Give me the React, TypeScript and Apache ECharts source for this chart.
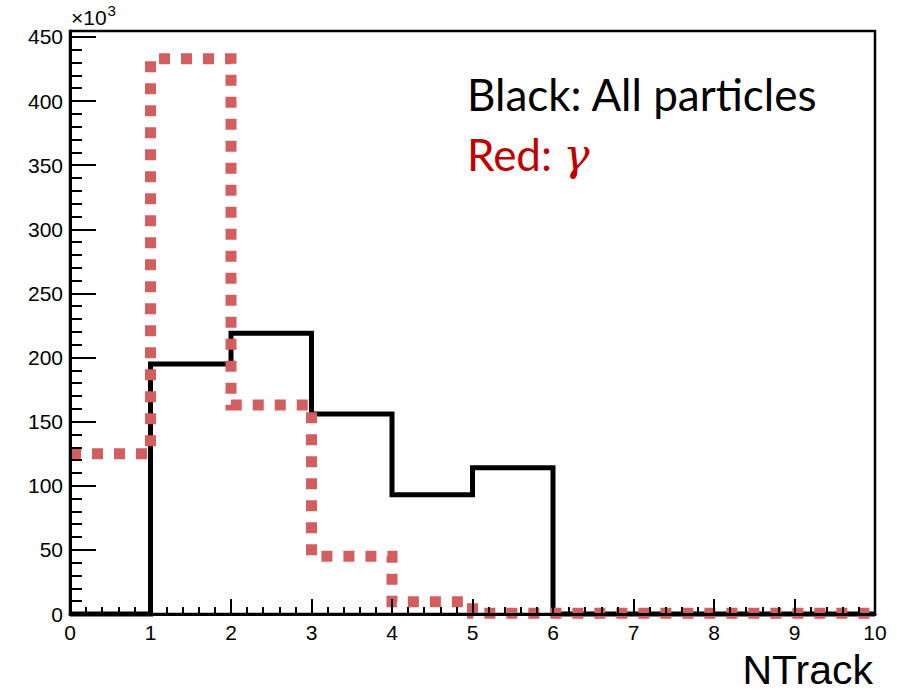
import React, { useEffect, useRef } from "react";
import * as echarts from "echarts";

// Bin edges (NTrack) and bin contents (in units of 10^3)
const binEdges = [0, 1, 2, 3, 4, 5, 6, 7, 8, 9, 10];
const allParticles = [0, 195, 219, 156, 93, 114, 0, 0, 0, 0];
const gammaParticles = [125, 433, 163, 45, 9.5, 0.5, 0.5, 0.5, 0.5, 0.5];
const yMajorTicks = [0, 50, 100, 150, 200, 250, 300, 350, 400, 450];
const xTickLabels = ["0", "1", "2", "3", "4", "5", "6", "7", "8", "9", "10"];

const Y_MAX = 454.6;

function toStep(vals: number[]): number[][] {
  return binEdges.map((e, i) => [e, vals[Math.min(i, vals.length - 1)]]);
}

export default function App() {
  const ref = useRef<HTMLDivElement>(null);
  useEffect(() => {
    if (!ref.current) return;
    const chart = echarts.init(ref.current, null, { renderer: "svg" });
    const labelFont = "Liberation Sans";
    const textFont = "Lato";
    chart.setOption({
      animation: false,
      backgroundColor: "#ffffff",
      grid: {
        left: 70,
        right: 22,
        top: 31,
        bottom: 78,
        show: true,
        borderColor: "#000",
        borderWidth: 2.5,
        backgroundColor: "transparent",
      },
      xAxis: {
        type: "value",
        min: 0,
        max: 10,
        interval: 1,
        z: 10,
        axisLine: { show: true, onZero: false, lineStyle: { color: "#000", width: 3 } },
        axisTick: { show: true, inside: true, length: 15, lineStyle: { color: "#000", width: 2 } },
        minorTick: { show: true, splitNumber: 5, length: 7, lineStyle: { color: "#000", width: 2 } },
        splitLine: { show: false },
        axisLabel: {
          show: true,
          margin: 8,
          color: "#000",
          fontSize: 21,
          fontFamily: labelFont,
          formatter: (v: number) => xTickLabels[Math.round(v)] ?? "",
        },
      },
      yAxis: [
        {
          type: "value",
          min: 0,
          max: Y_MAX,
          interval: 50,
          z: 10,
          axisLine: { show: true, onZero: false, lineStyle: { color: "#000", width: 3 } },
          axisTick: { show: true, inside: true, length: 26, lineStyle: { color: "#000", width: 2 } },
          minorTick: { show: false },
          splitLine: { show: false },
          axisLabel: {
            show: true,
            margin: 7,
            color: "#000",
            fontSize: 21,
            fontFamily: labelFont,
            formatter: (v: number) => (yMajorTicks.indexOf(v) >= 0 ? String(v) : ""),
          },
        },
        {
          type: "value",
          position: "left",
          min: 0,
          max: Y_MAX,
          interval: 10,
          z: 10,
          axisLine: { show: false },
          axisTick: { show: true, inside: true, length: 12, lineStyle: { color: "#000", width: 2 } },
          splitLine: { show: false },
          axisLabel: { show: false },
        },
      ],
      graphic: [
        {
          type: "text",
          left: 71,
          top: 3,
          style: {
            text: "{a|×10}{b|3}",
            rich: {
              a: { fontSize: 21, fontFamily: labelFont, fill: "#000", verticalAlign: "bottom", lineHeight: 25 },
              b: { fontSize: 15, fontFamily: labelFont, fill: "#000", verticalAlign: "top", lineHeight: 25, padding: [0, 0, 9, 1] },
            },
          },
        },
        {
          type: "text",
          x: 467,
          y: 94,
          style: {
            text: "Black: All particles",
            fontSize: 44,
            fontFamily: textFont,
            fill: "#000",
            verticalAlign: "middle",
            align: "left",
          },
        },
        {
          type: "text",
          x: 467,
          y: 154,
          style: {
            text: "{r|Red: }{g|γ}",
            verticalAlign: "middle",
            align: "left",
            rich: {
              r: { fontSize: 44, fontFamily: textFont, fill: "#c00000" },
              g: { fontSize: 44, fontFamily: "DejaVu Serif", fontStyle: "italic", fill: "#c00000" },
            },
          },
        },
        {
          type: "text",
          x: 873,
          y: 670,
          style: {
            text: "NTrack",
            fontSize: 41,
            fontFamily: labelFont,
            fill: "#000",
            align: "right",
            verticalAlign: "middle",
          },
        },
      ],
      series: [
        {
          name: "All particles",
          type: "line",
          step: "end",
          data: toStep(allParticles),
          showSymbol: false,
          symbol: "none",
          clip: false,
          z: 3,
          lineStyle: { color: "#000", width: 5, cap: "butt", join: "miter" },
        },
        {
          name: "gamma",
          type: "line",
          step: "end",
          data: toStep(gammaParticles),
          showSymbol: false,
          symbol: "none",
          clip: false,
          z: 4,
          lineStyle: { color: "#d25e60", width: 11, type: [11, 11], cap: "butt", join: "miter" },
        },
      ],
    });
    return () => chart.dispose();
  }, []);
  return (
    <div
      ref={ref}
      style={{ position: "fixed", left: 0, top: 0, width: 897, height: 692, background: "#fff" }}
    />
  );
}
